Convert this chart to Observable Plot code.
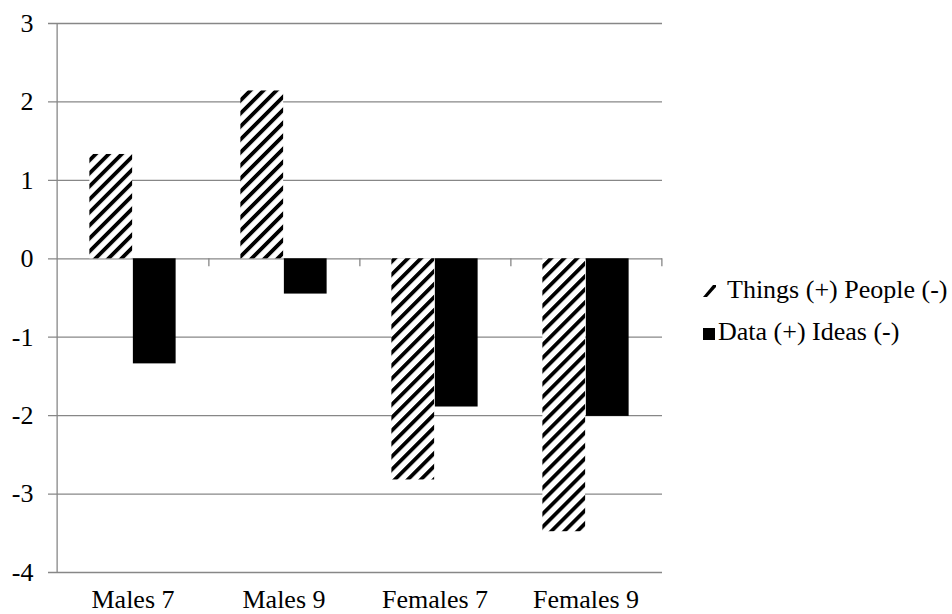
<!DOCTYPE html>
<html><head><meta charset="utf-8">
<script src="https://cdn.jsdelivr.net/npm/d3@7"></script>
<script src="https://cdn.jsdelivr.net/npm/@observablehq/plot@0.6"></script>
<style>
body{margin:0;background:#fff;font-family:"Liberation Serif",Tinos,"Times New Roman",Times,serif;}
#wrap{position:relative;width:952px;height:614px;overflow:hidden;}
#chart{position:absolute;left:0;top:0;}
.lt{position:absolute;font-size:26px;line-height:30px;white-space:nowrap;color:#000;}
.lm{position:absolute;}
svg text{font-family:"Liberation Serif",Tinos,"Times New Roman",Times,serif;}
</style></head><body><div id="wrap"><div id="chart"></div><div id="legend"></div></div>
<script>
const categories = ["Males 7", "Males 9", "Females 7", "Females 9"];
const seriesNames = ["Things (+) People (-)", "Data (+) Ideas (-)"];
const thingsPeople = [1.33, 2.14, -2.82, -3.48];
const dataIdeas = [-1.34, -0.45, -1.89, -2.01];
const yTicks = [-4, -3, -2, -1, 0, 1, 2, 3];

const rowsThings = categories.map((c, i) => ({category: c, series: seriesNames[0], value: thingsPeople[i]}));
const rowsData = categories.map((c, i) => ({category: c, series: seriesNames[1], value: dataIdeas[i]}));

const GRAY = "#878787";
const FONT = '"Liberation Serif", Tinos, "Times New Roman", Times, serif';
const W = 700, H = 614, ML = 55, MR = 38, MT = 23, MB = 42;
const step = (W - ML - MR) / categories.length;
const barW = 43.5;
const pad = (step - 2 * barW) / 2;

const svg = Plot.plot({
  width: W, height: H,
  marginLeft: ML, marginRight: MR, marginTop: MT, marginBottom: MB,
  style: {fontFamily: FONT, fontSize: "26px", color: "#000", background: "#fff"},
  x: {type: "band", domain: categories, padding: 0, axis: null},
  y: {domain: [-4, 3], axis: null},
  marks: [
    Plot.ruleY(yTicks, {stroke: GRAY, strokeWidth: 1.3, insetLeft: -7}),
    Plot.ruleX([categories[0]], {dx: -step / 2, y1: -4, y2: 3, stroke: GRAY, strokeWidth: 1.3}),
    Plot.barY(rowsThings, {x: "category", y: "value", fill: "url(#hatch)", insetLeft: pad, insetRight: step - pad - barW}),
    Plot.barY(rowsData, {x: "category", y: "value", fill: "#000", insetLeft: pad + barW, insetRight: pad}),
    Plot.ruleX(categories, {x: d => d, dx: step / 2, y1: 0, y2: 0, insetBottom: -8, stroke: GRAY, strokeWidth: 1.3}),
    Plot.axisY(yTicks, {anchor: "left", tickSize: 0, tickPadding: 22, tickFormat: d => String(d), label: null, fill: "#000", fontSize: 26, fontFamily: FONT}),
    Plot.axisX(categories, {anchor: "bottom", tickSize: 0, tickPadding: 17, label: null, fill: "#000", fontSize: 26, fontFamily: FONT})
  ]
});

const s = d3.select(svg);
const defs = s.insert("defs", ":first-child");
const P = 9.2;
const pat = defs.append("pattern")
  .attr("id", "hatch").attr("patternUnits", "userSpaceOnUse")
  .attr("width", P).attr("height", P)
  .attr("patternTransform", "rotate(45)");
pat.append("rect").attr("width", P).attr("height", P).attr("fill", "#fff");
pat.append("rect").attr("x", 0).attr("width", 3.8).attr("height", P).attr("fill", "#000");
document.getElementById("chart").appendChild(svg);

// legend (beside the chart)
const wrap = d3.select("#wrap");
const m1 = wrap.append("svg").attr("class", "lm").style("left", "702px").style("top", "283px")
  .attr("width", 16).attr("height", 16);
m1.append("path").attr("d", "M1,14 L5,14 L14,4 L14,2 L11,2 Z").attr("fill", "#000");
wrap.append("div").attr("class", "lt").style("left", "727px").style("top", "275px").text(seriesNames[0]);
const m2 = wrap.append("svg").attr("class", "lm").style("left", "703px").style("top", "328px")
  .attr("width", 13).attr("height", 13);
m2.append("rect").attr("x", 0).attr("y", 0).attr("width", 12).attr("height", 12).attr("fill", "#000");
wrap.append("div").attr("class", "lt").style("left", "718px").style("top", "317px").text(seriesNames[1]);
</script></body></html>
